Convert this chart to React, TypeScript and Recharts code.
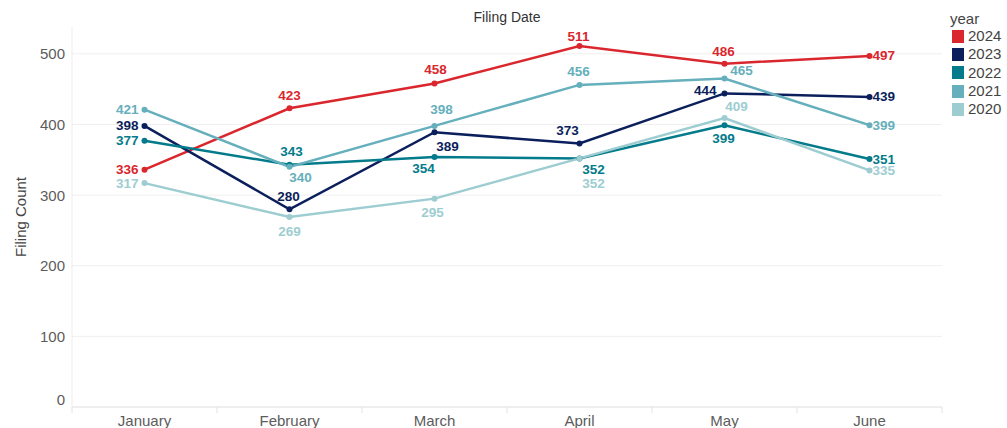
import React from "react";
import { LineChart, Line, XAxis, YAxis, CartesianGrid, Legend, LabelList } from "recharts";

const months = ["January", "February", "March", "April", "May", "June"];
const years = ["2024", "2023", "2022", "2021", "2020"];
const v2024 = [336, 423, 458, 511, 486, 497];
const v2023 = [398, 280, 389, 373, 444, 439];
const v2022 = [377, 343, 354, 352, 399, 351];
const v2021 = [421, 340, 398, 456, 465, 399];
const v2020 = [317, 269, 295, 352, 409, 335];
const yTicks = [0, 100, 200, 300, 400, 500];
const yMax = 538;

const seriesValues: Record<string, number[]> = {
  "2024": v2024,
  "2023": v2023,
  "2022": v2022,
  "2021": v2021,
  "2020": v2020,
};

const colors: Record<string, string> = {
  "2024": "#da272e",
  "2023": "#0b1f5c",
  "2022": "#037b8b",
  "2021": "#66afbc",
  "2020": "#9dcdd1",
};

const data = months.map((m, i) => {
  const row: Record<string, any> = { month: m };
  years.forEach((y) => (row[y] = seriesValues[y][i]));
  return row;
});

// label placement style: [anchor, dx, dy] relative to the point
type P = [string, number, number];
const L: P = ["end", -6, 0];
const R: P = ["start", 3, 0];
const labelPlacement: Record<string, P[]> = {
  "2024": [L, ["middle", 0, -13], ["middle", 1, -14], ["middle", -1, -10], ["middle", -1, -12], R],
  "2023": [L, ["middle", -1, -13], ["middle", 13, 14], ["middle", -12, -13], ["end", -8, -3], R],
  "2022": [L, ["middle", 2, -13], ["middle", -11, 12], ["middle", 14, 11], ["middle", -1, 13], R],
  "2021": [L, ["middle", 11, 11], ["middle", 7, -16], ["middle", -1, -13], ["middle", 17, -8], R],
  "2020": [L, ["middle", 0, 14], ["middle", -2, 14], ["middle", 14, 25], ["middle", 12, -12], R],
};

const FONT = "'Liberation Sans', Arial, Helvetica, sans-serif";
const W = 1007;
const H = 428;
const PLOT_LEFT = 72;
const PLOT_RIGHT = 942;
const LEGEND_W = 55;
const HALF_BAND = (PLOT_RIGHT - PLOT_LEFT) / months.length / 2;

const makeLabel = (year: string) => (props: any) => {
  const { x, y, value, index } = props;
  const p = labelPlacement[year][index] || ["middle", 0, -12];
  return (
    <text
      x={Number(x) + p[1]}
      y={Number(y) + p[2]}
      textAnchor={p[0] as any}
      dominantBaseline="central"
      fill={colors[year]}
      fontSize={13.5}
      fontWeight="bold"
      fontFamily={FONT}
    >
      {value}
    </text>
  );
};

const XTick = (props: any) => {
  const { x, payload, index } = props;
  const axisY = 407;
  return (
    <g>
      <line x1={x - HALF_BAND} x2={x - HALF_BAND} y1={axisY} y2={axisY + 6} stroke="#e2e2e2" />
      {index === months.length - 1 && (
        <line x1={x + HALF_BAND} x2={x + HALF_BAND} y1={axisY} y2={axisY + 6} stroke="#e2e2e2" />
      )}
      <text x={x} y={axisY + 13} textAnchor="middle" dominantBaseline="central" fill="#5c5c5c" fontSize={15} fontFamily={FONT}>
        {payload.value}
      </text>
    </g>
  );
};

const YTick = (props: any) => {
  const { x, y, payload } = props;
  const shift = payload.value === 0 ? -8 : 0;
  return (
    <text x={x} y={y + shift} textAnchor="end" dominantBaseline="central" fill="#5c5c5c" fontSize={15} fontFamily={FONT}>
      {payload.value}
    </text>
  );
};

const LegendContent = () => (
  <div style={{ fontFamily: FONT, color: "#444", fontSize: 15 }}>
    <div style={{ height: 16, lineHeight: "16px", marginLeft: -2 }}>year</div>
    {years.map((y) => (
      <div key={y} style={{ height: 18.3, display: "flex", alignItems: "center" }}>
        <span style={{ width: 12, height: 13, background: colors[y], display: "inline-block", marginRight: 4 }} />
        <span style={{ lineHeight: "18px" }}>{y}</span>
      </div>
    ))}
  </div>
);

export default function App() {
  return (
    <div style={{ position: "absolute", left: 0, top: 0, width: W, height: H, background: "#fff", overflow: "hidden" }}>
      <div
        style={{
          position: "absolute",
          left: PLOT_LEFT,
          width: PLOT_RIGHT - PLOT_LEFT,
          top: 8,
          textAlign: "center",
          fontFamily: FONT,
          fontSize: 14,
          color: "#333",
          lineHeight: "18px",
        }}
      >
        Filing Date
      </div>
      <LineChart width={W} height={H} data={data} margin={{ top: 27, right: W - PLOT_RIGHT - LEGEND_W, bottom: 0, left: 0 }}>
        <CartesianGrid vertical={false} stroke="#efefef" horizontalValues={yTicks} />
        <XAxis
          dataKey="month"
          height={H - 407}
          padding={{ left: HALF_BAND, right: HALF_BAND }}
          tickLine={false}
          axisLine={{ stroke: "#e6e6e6" }}
          tick={<XTick />}
          interval={0}
        />
        <YAxis
          width={PLOT_LEFT}
          domain={[0, yMax]}
          ticks={yTicks}
          tickLine={false}
          tickSize={0}
          tickMargin={7}
          axisLine={{ stroke: "#ececec" }}
          tick={<YTick />}
          label={(lp: any) => {
            const vb = lp.viewBox || {};
            const cy = (vb.y ?? 27) + (vb.height ?? 380) / 2;
            return (
              <text
                x={20}
                y={cy}
                transform={`rotate(-90, 20, ${cy})`}
                textAnchor="middle"
                dominantBaseline="central"
                fill="#444"
                fontSize={15}
                fontFamily={FONT}
              >
                Filing Count
              </text>
            );
          }}
        />
        <Legend
          layout="vertical"
          verticalAlign="top"
          align="right"
          wrapperStyle={{ position: "absolute", left: 952, top: 11, width: LEGEND_W, right: "auto" }}
          content={<LegendContent />}
        />
        {years.map((y) => (
          <Line
            key={y}
            type="linear"
            dataKey={y}
            stroke={colors[y]}
            strokeWidth={2.5}
            dot={{ r: 3, fill: colors[y], stroke: "none" }}
            activeDot={false}
            isAnimationActive={false}
          >
            <LabelList dataKey={y} content={makeLabel(y)} />
          </Line>
        ))}
      </LineChart>
    </div>
  );
}
